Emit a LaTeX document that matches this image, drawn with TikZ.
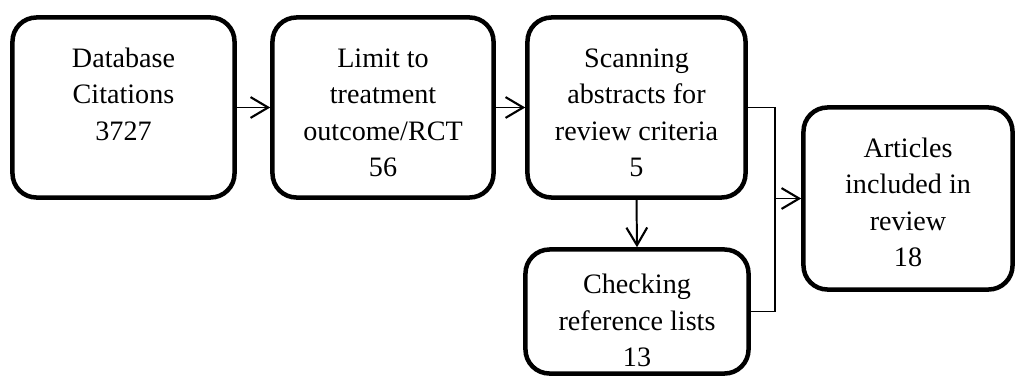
\documentclass[tikz,border=0pt]{standalone}
\usepackage{fontspec}
\setmainfont{Liberation Serif}
\usetikzlibrary{arrows.meta}

% box text: height, width, lines (top aligned)
\newcommand{\stagetext}[3]{\parbox[c][#1][t]{#2}{\centering\rule{0pt}{1.24cm}#3}}

\begin{document}
\begin{tikzpicture}[
    x=0.025cm, y=-0.025cm,
    stage/.style={draw, line width=3.2pt, rounded corners=0.6cm, inner sep=0pt,
        font=\fontsize{20}{26}\selectfont},
    link/.style={line width=1.4pt},
    arr/.style={link, -{Straight Barb[length=0.44cm, width=0.52cm, line width=1.5pt]}}
]
\useasboundingbox (0,0) rectangle (1016,376);

% top row
\node[stage] (db)    at (123.5,107.5) {\stagetext{4.5cm}{5.55cm}{Database\\Citations\\3727}};
\node[stage] (limit) at (383,107.5)   {\stagetext{4.5cm}{5.525cm}{Limit to\\treatment\\outcome/RCT\\56}};
\node[stage] (scan)  at (636.5,107.5) {\stagetext{4.5cm}{5.45cm}{Scanning\\abstracts for\\review criteria\\5}};

% lower box
\node[stage] (check) at (637,311.5) {\parbox[c][3.1cm][t]{5.575cm}{\centering\rule{0pt}{1.1cm}Checking\\reference lists\\13}};

% result
\node[stage] (art) at (908,198.5) {\stagetext{4.55cm}{5.225cm}{Articles\\included in\\review\\18}};

% arrows along the top row
\draw[arr] (db.east) -- (limit.west);
\draw[arr] (limit.east) -- (scan.west);
\draw[arr] (scan.south) -- (check.north);

% both branches join and go to the result
\coordinate (join) at (775,198.5);
\draw[link] (scan.east) -| (join) |- (check.east);
\draw[arr] (join) -- (art.west);

\end{tikzpicture}
\end{document}
